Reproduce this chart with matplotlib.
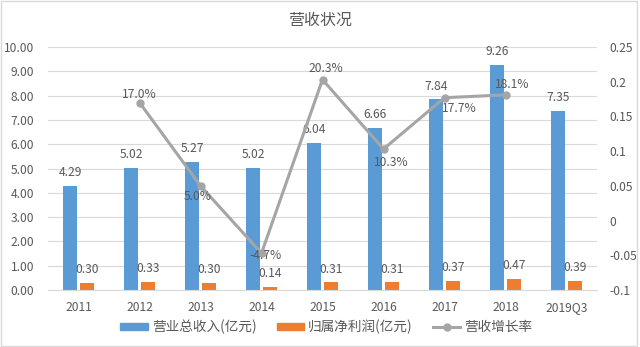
import matplotlib
matplotlib.use("Agg")
import matplotlib.pyplot as plt
from matplotlib.patches import Rectangle
from matplotlib.lines import Line2D
import numpy as np

plt.rcParams['font.family'] = ['Noto Sans CJK SC', 'DejaVu Sans']

categories = ['2011', '2012', '2013', '2014', '2015', '2016', '2017', '2018', '2019Q3']
revenue = [4.29, 5.02, 5.27, 5.02, 6.04, 6.66, 7.84, 9.26, 7.35]
profit = [0.30, 0.33, 0.30, 0.14, 0.31, 0.31, 0.37, 0.47, 0.39]
growth_years = ['2012', '2013', '2014', '2015', '2016', '2017', '2018']
growth = [0.170, 0.050, -0.047, 0.203, 0.103, 0.177, 0.181]
growth_labels = ['17.0%', '5.0%', '-4.7%', '20.3%', '10.3%', '17.7%', '18.1%']
left_ticks = [0, 1, 2, 3, 4, 5, 6, 7, 8, 9, 10]
right_ticks = [-0.1, -0.05, 0, 0.05, 0.1, 0.15, 0.2, 0.25]
right_tick_labels = ['-0.1', '-0.05', '0', '0.05', '0.1', '0.15', '0.2', '0.25']

blue = '#5B9BD5'
orange = '#ED7D31'
gray = '#A5A5A5'
txt = '#595959'

fig = plt.figure(figsize=(6.4, 3.47), dpi=100)
fig.patches.append(Rectangle((0.002, 0.003), 0.994, 0.994, transform=fig.transFigure,
                             fill=False, edgecolor='#D9D9D9', linewidth=1.0))
ax = fig.add_axes([48/640, 1-290/347, (597-48)/640, (290-47)/347])
x = np.arange(len(categories))
w = 0.23
off = 0.135
ax.bar(x - off, revenue, w, color=blue, zorder=2)
ax.bar(x + off, profit, w, color=orange, zorder=2)
ax.set_xlim(-0.5, len(categories) - 0.5)
ax.set_ylim(0, 10)
ax.set_yticks(left_ticks)
ax.set_yticklabels([f'{v:.2f}' for v in left_ticks])
ax.set_xticks(x)
ax.set_xticklabels(categories)
ax.grid(axis='y', color='#D9D9D9', linewidth=0.8, zorder=0)
for s in ['top', 'right', 'left']:
    ax.spines[s].set_visible(False)
ax.spines['bottom'].set_color('#D9D9D9')
ax.tick_params(axis='both', length=0, labelsize=8.7, colors=txt)
ax.tick_params(axis='x', pad=8)
ax.tick_params(axis='y', pad=10)

for xi, v in zip(x, revenue):
    ax.annotate(f'{v:.2f}', (xi - off, v), xytext=(0, 5), textcoords='offset points',
                ha='center', va='bottom', fontsize=8.7, color=txt)
for xi, v in zip(x, profit):
    ax.annotate(f'{v:.2f}', (xi + off, v), xytext=(0, 5), textcoords='offset points',
                ha='center', va='bottom', fontsize=8.7, color=txt)

ax2 = ax.twinx()
ax2.set_ylim(-0.1, 0.25)
ax2.set_yticks(right_ticks)
ax2.set_yticklabels(right_tick_labels)
for s in ax2.spines.values():
    s.set_visible(False)
ax2.tick_params(axis='y', length=0, labelsize=8.7, colors=txt, pad=9)
gx = [categories.index(c) for c in growth_years]
ax2.plot(gx, growth, color=gray, linewidth=2.2, marker='o', markersize=5, zorder=3)
# label offsets in pixels (dx right, dy up)
label_offsets = [(0, 8), (-3, -11), (4, -2), (3, 11), (8, -13), (15, -11), (7, 10)]
for xi, v, lab, (dx, dy) in zip(gx, growth, growth_labels, label_offsets):
    ax2.annotate(lab, (xi, v), xytext=(dx, dy), textcoords='offset pixels',
                 ha='center', va='center', fontsize=8.7, color=txt, zorder=4)

fig.text(0.5, 1 - 20/347, '营收状况', ha='center', va='center', fontsize=11.5, color=txt)

handles = [Rectangle((0, 0), 1, 1, color=blue),
           Rectangle((0, 0), 1, 1, color=orange),
           Line2D([0], [0], color=gray, linewidth=2.2, marker='o', markersize=5)]
fig.legend(handles, ['营业总收入(亿元)', '归属净利润(亿元)', '营收增长率'],
           loc='center', bbox_to_anchor=(0.51, 1 - 327/347), ncol=3, frameon=False,
           fontsize=9.8, labelcolor=txt, handlelength=2.0, handleheight=0.5,
           columnspacing=1.5, handletextpad=0.3)

fig.savefig('out.png', dpi=100)
